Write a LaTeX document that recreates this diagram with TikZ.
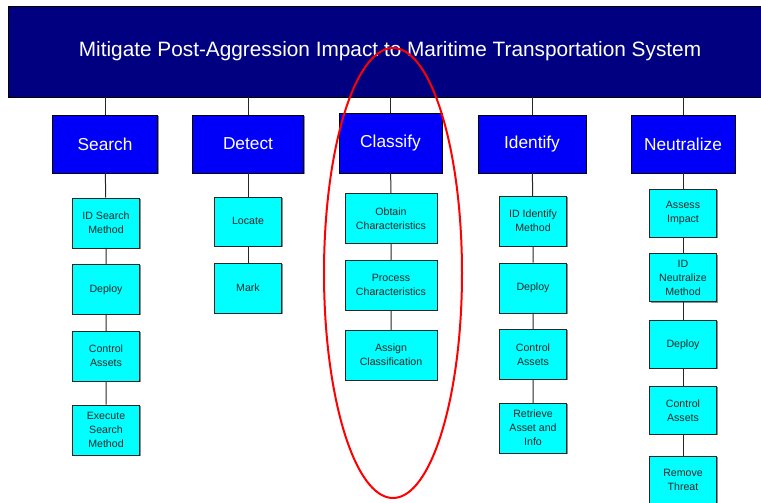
\documentclass[tikz,border=0pt]{standalone}
\usepackage{fontspec}
\setmainfont{Liberation Sans}
\usepackage{tikz}
\usetikzlibrary{shadows}
\usetikzlibrary{shapes.geometric}
\usetikzlibrary{positioning}
\definecolor{navy}{RGB}{0,0,128}
\definecolor{taskblue}{RGB}{0,0,250}
\definecolor{taskcyan}{RGB}{0,255,255}
\tikzstyle{boxshadow}=[drop shadow={shadow xshift=1pt,shadow yshift=-1pt,fill=black!45,opacity=1}]
\tikzstyle{goal}=[rectangle,draw=black,fill=navy,text=white,inner sep=0mm,minimum width=764,minimum height=91,font=\fontsize{20.8}{24}\selectfont]
\tikzstyle{phase}=[rectangle,draw=black,fill=taskblue,text=white,boxshadow,inner sep=0mm,minimum width=105,minimum height=58,font=\fontsize{17.3}{20}\selectfont]
\tikzstyle{action}=[rectangle,draw=black!85,fill=taskcyan,text=black!85,boxshadow,inner sep=0mm,align=center,minimum width=67,minimum height=50,font=\fontsize{10.6}{14}\selectfont]
\tikzstyle{link}=[draw=black!85,line width=1]
\tikzstyle{circled}=[draw=red,line width=2]

\begin{document}
\begin{tikzpicture}[x=1pt,y=-1pt]
        \clip (0,0) rectangle (761,503);
        \node[goal] at (390,51.5) (goal) {Mitigate Post-Aggression Impact to Maritime Transportation System};
        \node[phase] at (105,144) (srch) {Search};
        \node[phase,minimum width=111] at (248,144) (dtct) {Detect};
        \node[phase,minimum width=103,minimum height=60] at (390.5,143) (clsf) {Classify};
        \node[phase,minimum width=108] at (532,144) (idnt) {Identify};
        \node[phase,minimum width=104] at (683,144) (ntrl) {Neutralize};
        % search
        \node[action] at (106,222.7) (s1) {ID Search\\Method};
        \node[action] at (106,289.3) (s2) {Deploy};
        \node[action] at (106,356) (s3) {Control\\Assets};
        \node[action] at (106,429.7) (s4) {Execute\\Search\\Method};
        % detect
        \node[action,minimum height=49] at (248,221.3) (d1) {Locate};
        \node[action] at (248,288) (d2) {Mark};
        % classify
        \node[action,minimum width=92] at (391,218.3) (c1) {Obtain\\Characteristics};
        \node[action,minimum width=92] at (391,285.3) (c2) {Process\\Characteristics};
        \node[action,minimum width=92] at (391,355) (c3) {Assign\\Classification};
        % identify
        \node[action] at (533,221) (i1) {ID Identify\\Method};
        \node[action] at (533,287.7) (i2) {Deploy};
        \node[action] at (533,354.3) (i3) {Control\\Assets};
        \node[action] at (533,428) (i4) {Retrieve\\Asset and\\Info};
        % neutralize
        \node[action,minimum height=48] at (683,212.7) (n1) {Assess\\Impact};
        \node[action,minimum height=48] at (683,277.5) (n2) {ID\\Neutralize\\Method};
        \node[action,minimum height=48] at (683,344.3) (n3) {Deploy};
        \node[action,minimum height=48] at (683,410.3) (n4) {Control\\Assets};
        \node[action,minimum height=48] at (683,480.3) (n5) {Remove\\Threat};
        \draw[link] (goal.south -| srch) -- (srch);
        \draw[link] (goal.south -| dtct) -- (dtct);
        \draw[link] (goal.south -| clsf) -- (clsf);
        \draw[link] (goal.south -| idnt) -- (idnt);
        \draw[link] (goal.south -| ntrl) -- (ntrl);
        \draw[link] (srch) -- (s1) (s1) -- (s2) (s2) -- (s3) (s3) -- (s4);
        \draw[link] (dtct) -- (d1) (d1) -- (d2);
        \draw[link] (clsf) -- (c1) (c1) -- (c2) (c2) -- (c3);
        \draw[link] (idnt) -- (i1) (i1) -- (i2) (i2) -- (i3) (i3) -- (i4);
        \draw[link] (ntrl) -- (n1) (n1) -- (n2) (n2) -- (n3) (n3) -- (n4) (n4) -- (n5);
        \node[circled,ellipse,minimum width=138,minimum height=450,inner sep=0] at (393,273) (focus) {};
      \end{tikzpicture}
\end{document}
